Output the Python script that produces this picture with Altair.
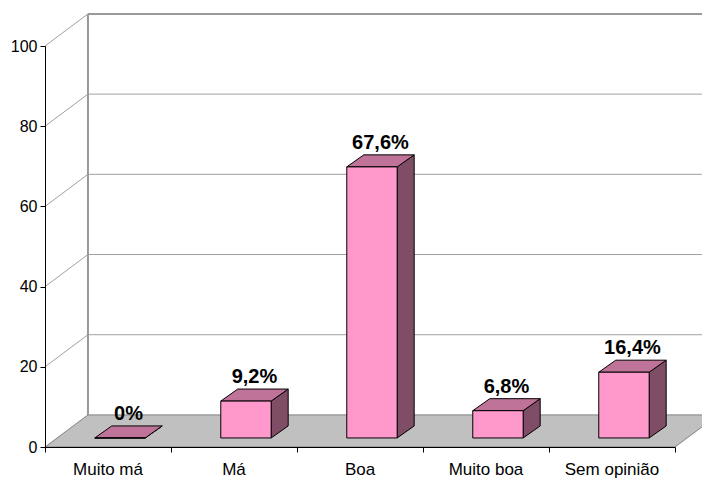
import altair as alt
import pandas as pd

categories = ["Muito má", "Má", "Boa", "Muito boa", "Sem opinião"]
values = [0, 9.2, 67.6, 6.8, 16.4]
value_labels = ["0%", "9,2%", "67,6%", "6,8%", "16,4%"]
y_ticks = [0, 20, 40, 60, 80, 100]

# 3D look, in data units
DX, DY = 0.341, 8.0      # depth of floor and walls
FX, FY = 0.095, 2.25     # where the bars start in depth
BDX, BDY = 0.135, 3.0    # depth of a bar
BAR_L, BAR_R = 0.30, 0.70
N = len(categories)
YMAX = y_ticks[-1]

FONT = "Liberation Sans"
C_FRONT, C_TOP, C_SIDE = "#FF99CC", "#BF7399", "#804D66"

front = pd.DataFrame([
    {"cat": c, "x": i + BAR_L + FX, "x2": i + BAR_R + FX, "y": FY, "y2": FY + v}
    for i, (c, v) in enumerate(zip(categories, values))
])
top_rows, side_rows = [], []
for i, (c, v) in enumerate(zip(categories, values)):
    top_rows.append({"cat": c, "y": FY + v, "x": i + BAR_L + FX, "x2": i + BAR_R + FX})
    top_rows.append({"cat": c, "y": FY + v + BDY, "x": i + BAR_L + FX + BDX, "x2": i + BAR_R + FX + BDX})
    side_rows.append({"cat": c, "x": i + BAR_R + FX, "y": FY, "y2": FY + v})
    side_rows.append({"cat": c, "x": i + BAR_R + FX + BDX, "y": FY + BDY, "y2": FY + v + BDY})
top = pd.DataFrame(top_rows)
side = pd.DataFrame(side_rows)

floor = pd.DataFrame([
    {"k": "f", "y": 0, "x": 0, "x2": N},
    {"k": "f", "y": DY, "x": DX, "x2": N + DX},
])
back_grid = pd.DataFrame([{"x": DX, "x2": N + DX + 0.3, "y": v + DY} for v in y_ticks[1:-1]])
back_top = pd.DataFrame([{"x": DX, "x2": N + DX + 0.3, "y": YMAX + DY}])
back_left = pd.DataFrame([{"x": DX, "y": DY, "y2": YMAX + DY}])
diag = pd.DataFrame([{"x": 0, "y": v, "x2": DX, "y2": v + DY} for v in y_ticks[1:]])

labels = pd.DataFrame([
    {"x": i + (BAR_L + BAR_R) / 2 + FX + BDX / 2, "y": FY + v + BDY, "t": t}
    for i, (v, t) in enumerate(zip(values, value_labels))
])
cats = pd.DataFrame([{"x": i + 0.5, "y": 0, "t": c} for i, c in enumerate(categories)])

xs = alt.Scale(domain=[0, N], nice=False, zero=False)
ys = alt.Scale(domain=[0, YMAX], nice=False, zero=False)
xaxis = alt.Axis(values=list(range(N + 1)), labels=False, title=None, grid=False,
                 domainColor="black", tickColor="black", tickSize=5, zindex=1)
yaxis = alt.Axis(values=y_ticks, title=None, grid=False, domainColor="black",
                 tickColor="black", tickSize=5, labelFont=FONT, labelFontSize=16,
                 labelColor="black", labelPadding=3, zindex=1)


def X(f="x"):
    return alt.X(f"{f}:Q", scale=xs, axis=xaxis, stack=None)


def Y(f="y"):
    return alt.Y(f"{f}:Q", scale=ys, axis=yaxis, stack=None)


l_floor = alt.Chart(floor).mark_area(orient="horizontal", fill="#C0C0C0", stroke="#808080",
                                     strokeWidth=1).encode(
    y=Y(), x=X(), x2="x2:Q", detail="k:N")
l_grid = alt.Chart(back_grid).mark_rule(color="#A0A0A0", strokeWidth=1).encode(
    x=X(), x2="x2:Q", y=Y())
l_top = alt.Chart(back_top).mark_rule(color="#999999", strokeWidth=2).encode(
    x=X(), x2="x2:Q", y=Y())
l_left = alt.Chart(back_left).mark_rule(color="#999999", strokeWidth=2).encode(
    x=X(), y=Y(), y2="y2:Q")
l_diag = alt.Chart(diag).mark_rule(color="#A0A0A0", strokeWidth=1).encode(
    x=X(), x2="x2:Q", y=Y(), y2="y2:Q")

l_side = alt.Chart(side).mark_area(orient="vertical", fill=C_SIDE, stroke="black",
                                   strokeWidth=1).encode(
    x=X(), y=Y(), y2="y2:Q", detail="cat:N")
l_tface = alt.Chart(top).mark_area(orient="horizontal", fill=C_TOP, stroke="black",
                                   strokeWidth=1).encode(
    y=Y(), x=X(), x2="x2:Q", detail="cat:N")
l_front = alt.Chart(front).mark_rect(fill=C_FRONT, stroke="black", strokeWidth=1).encode(
    x=X(), x2="x2:Q", y=Y(), y2="y2:Q")

l_labels = alt.Chart(labels).mark_text(font=FONT, fontSize=20, fontWeight="bold",
                                       color="black", align="center",
                                       baseline="alphabetic", dy=-6).encode(
    x=X(), y=Y(), text="t:N")
l_cats = alt.Chart(cats).mark_text(font=FONT, fontSize=17, color="black", align="center",
                                   baseline="alphabetic", dy=28).encode(
    x=X(), y=Y(), text="t:N")

chart = alt.layer(
    l_floor, l_grid, l_top, l_left, l_diag, l_side, l_tface, l_front, l_labels, l_cats
).properties(
    width=630, height=401,
    autosize=alt.AutoSizeParams(type="none"),
    padding={"left": 37, "top": 38, "right": 27, "bottom": 34},
).configure(
    background="white",
    view=alt.ViewConfig(strokeWidth=0, strokeOpacity=0),
)

chart.save("out.html", embed_options={"renderer": "svg", "actions": False})
